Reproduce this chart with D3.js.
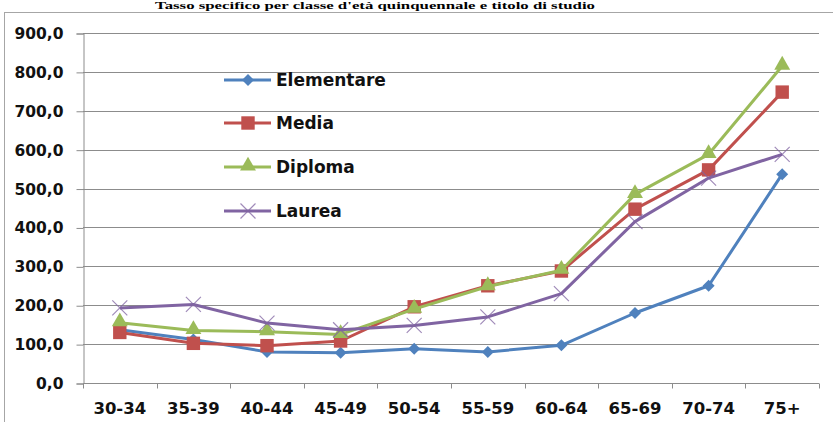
<!DOCTYPE html>
<html>
<head>
<meta charset="utf-8">
<script src="https://cdn.jsdelivr.net/npm/d3@7"></script>
<style>
html,body{margin:0;padding:0;background:#fff;}
svg{display:block;}
</style>
</head>
<body>
<svg id="chart" width="833" height="422"></svg>
<script>
const categories = ["30-34","35-39","40-44","45-49","50-54","55-59","60-64","65-69","70-74","75+"];
const seriesNames = ["Elementare","Media","Diploma","Laurea"];
const elementare = [137,112,80,78,88,80,97,180,250,537];
const media      = [130,102,96,108,196,250,288,447,548,748];
const diploma    = [155,135,132,125,190,248,290,485,588,815];
const laurea     = [193,202,154,137,148,170,230,415,527,588];
const yTicks = [0,100,200,300,400,500,600,700,800,900];
const titleText = "Tasso specifico per classe d'età quinquennale e titolo di studio";

const colors = ["#4F81BD","#C0504D","#9BBB59","#8064A2"];
const seriesValues = [elementare, media, diploma, laurea];

const svg = d3.select("#chart");

// outer frame
svg.append("rect").attr("x",4.5).attr("y",12.5).attr("width",840).attr("height",430)
  .attr("fill","#fff").attr("stroke","#a6a6a6").attr("stroke-width",1);

// title
svg.append("text").attr("x",375).attr("y",9).attr("text-anchor","middle")
  .attr("font-family","Liberation Serif, serif").attr("font-weight","bold").attr("font-size",11)
  .attr("textLength",440).attr("lengthAdjust","spacingAndGlyphs")
  .attr("fill","#000").text(titleText);

const plotL = 83, plotR = 819, plotT = 33, plotB = 383;
const x = d3.scaleBand().domain(categories).range([plotL, plotR]).padding(0);
const y = d3.scaleLinear().domain([0,900]).range([plotB, plotT]);
const cx = c => x(c) + x.bandwidth()/2;

// gridlines
svg.append("g").selectAll("line").data(yTicks.filter(d=>d>0)).join("line")
  .attr("x1",plotL).attr("x2",plotR)
  .attr("y1",d=>Math.round(y(d))+0.5).attr("y2",d=>Math.round(y(d))+0.5)
  .attr("stroke","#8c8c8c").attr("stroke-width",1);

// y axis
const yAxis = svg.append("g").attr("transform",`translate(${plotL+0.5},0.5)`)
  .call(d3.axisLeft(y).tickValues(yTicks).tickSize(7).tickPadding(13)
    .tickFormat(d => d3.format(".1f")(d).replace(".", ",")));
yAxis.select(".domain").attr("stroke","#8c8c8c");
yAxis.selectAll(".tick line").attr("stroke","#8c8c8c");
yAxis.selectAll(".tick text").attr("font-family","DejaVu Sans, sans-serif")
  .attr("font-weight","bold").attr("font-size",15.5).attr("fill","#111");

// x axis
const xAxisG = svg.append("g").attr("transform",`translate(0,${plotB+0.5})`);
xAxisG.append("line").attr("x1",plotL).attr("x2",plotR).attr("y1",0).attr("y2",0)
  .attr("stroke","#8c8c8c");
const boundaries = categories.map(c => x(c)).concat([x(categories[categories.length-1]) + x.bandwidth()]);
xAxisG.selectAll("line.tk").data(boundaries).join("line").attr("class","tk")
  .attr("x1",d=>Math.round(d)+0.5).attr("x2",d=>Math.round(d)+0.5).attr("y1",0).attr("y2",5)
  .attr("stroke","#8c8c8c");
xAxisG.selectAll("text").data(categories).join("text")
  .attr("x",d=>cx(d)).attr("y",30).attr("text-anchor","middle")
  .attr("font-family","DejaVu Sans, sans-serif").attr("font-weight","bold").attr("font-size",16.5)
  .attr("fill","#111").text(d=>d);

// marker drawing
function drawMarker(g, i, px, py) {
  const col = colors[i];
  if (i === 0) {
    g.append("path").attr("d", d3.symbol().type(d3.symbolSquare).size(72)())
      .attr("transform",`translate(${px},${py}) rotate(45)`).attr("fill",col);
  } else if (i === 1) {
    g.append("path").attr("d", d3.symbol().type(d3.symbolSquare).size(180)())
      .attr("transform",`translate(${px},${py})`).attr("fill",col);
  } else if (i === 2) {
    g.append("path").attr("d", d3.symbol().type(d3.symbolTriangle).size(110)())
      .attr("transform",`translate(${px},${py-1})`).attr("fill",col);
  } else {
    const s = 7.5;
    g.append("path").attr("d",`M${-s},${-s}L${s},${s}M${-s},${s}L${s},${-s}`)
      .attr("transform",`translate(${px},${py})`).attr("stroke",col).attr("stroke-width",1.2)
      .attr("fill","none").attr("opacity",0.75);
  }
}

const line = d3.line().x((d,i)=>cx(categories[i])).y(d=>y(d));
seriesValues.forEach((vals,i) => {
  const g = svg.append("g");
  g.append("path").datum(vals).attr("d",line).attr("fill","none")
    .attr("stroke",colors[i]).attr("stroke-width",3).attr("stroke-linejoin","round");
  vals.forEach((v,j) => drawMarker(g, i, cx(categories[j]), y(v)));
});

// legend
const legendY = [80,123,167,211];
seriesNames.forEach((name,i) => {
  const g = svg.append("g");
  g.append("line").attr("x1",224).attr("x2",271).attr("y1",legendY[i]).attr("y2",legendY[i])
    .attr("stroke",colors[i]).attr("stroke-width",3);
  drawMarker(g, i, 248, legendY[i]);
  g.append("text").attr("x",276).attr("y",legendY[i]+6)
    .attr("font-family","DejaVu Sans, sans-serif").attr("font-weight","bold").attr("font-size",17)
    .attr("fill","#111").text(name);
});
</script>
</body>
</html>
